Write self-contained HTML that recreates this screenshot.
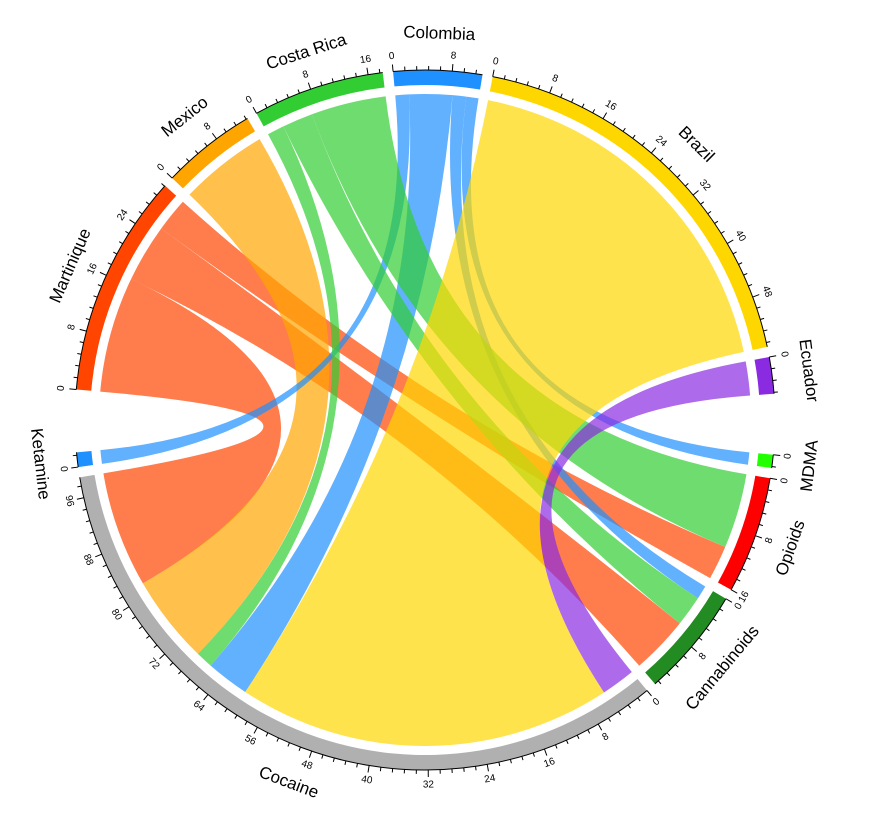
<!DOCTYPE html>
<html><head><meta charset="utf-8"><style>
html,body{margin:0;padding:0;background:#fff;}
svg{display:block;font-family:"Liberation Sans",Arial,sans-serif;}
</style></head><body>
<svg id="chart" width="889" height="832" viewBox="0 0 889 832" xmlns="http://www.w3.org/2000/svg">
<g id="chords"></g>
<g id="rings"></g>
<g id="labels"></g>
</svg>
<script>
const groupNames = ['Martinique','Mexico','Costa Rica','Colombia','Brazil','Ecuador','MDMA','Opioids','Cannabinoids','Cocaine','Ketamine'];
const groupColors = ['#FF4500','#FFA500','#32CD32','#1E90FF','#FFD700','#8A2BE2','#22FF00','#FF0000','#228B22','#B0B0B0','#1E90FF'];
const linkSource = ['Martinique','Martinique','Martinique','Mexico','Costa Rica','Costa Rica','Costa Rica','Colombia','Colombia','Colombia','Colombia','Brazil','Ecuador'];
const linkTarget = ['Cocaine','Cannabinoids','Opioids','Cocaine','Cocaine','Cannabinoids','Opioids','Ketamine','Cocaine','Cannabinoids','MDMA','Cocaine','Cocaine'];
const linkValue = [17,8.5,5,13,2.5,4.5,11,2,6.3,2,1.8,55,5];
const gapAfter = [1.7,1.7,1.7,1.7,1.7,10,1.7,1.7,1.7,1.7,10.3];

const CX=425, CY=420, R_OUT=350, R_IN=335, R_CH=326, START=275;
const NS='http://www.w3.org/2000/svg';
function pt(a,r){const t=a*Math.PI/180;return [CX+r*Math.sin(t),CY-r*Math.cos(t)];}
function f(p){return p[0].toFixed(2)+' '+p[1].toFixed(2);}

const totals = groupNames.map(g=>{let s=0;linkValue.forEach((v,i)=>{if(linkSource[i]===g||linkTarget[i]===g)s+=v;});return s;});
const sumAll = totals.reduce((a,b)=>a+b,0);
const gapSum = gapAfter.reduce((a,b)=>a+b,0);
const unit = (360-gapSum)/sumAll;
const gStart=[],gEnd=[];
let cur=START;
groupNames.forEach((g,i)=>{gStart.push(cur);cur+=totals[i]*unit;gEnd.push(cur);cur+=gapAfter[i];});
const gMid = gStart.map((s,i)=>((s+gEnd[i])/2)%360);

const sub = linkValue.map(()=>({}));
groupNames.forEach((g,gi)=>{
  const items=[];
  linkValue.forEach((v,i)=>{
    if(linkSource[i]===g) items.push({i,role:'s',other:groupNames.indexOf(linkTarget[i])});
    else if(linkTarget[i]===g) items.push({i,role:'t',other:groupNames.indexOf(linkSource[i])});
  });
  items.forEach(it=>{it.key=((gMid[it.other]-gMid[gi])%360+360)%360;});
  items.sort((a,b)=>b.key-a.key);
  let a=gStart[gi];
  items.forEach(it=>{const w=linkValue[it.i]*unit;sub[it.i][it.role]=[a,a+w];a+=w;});
});

const order=['Martinique','Mexico','Colombia','Costa Rica','Brazil','Ecuador'];
const chordG=document.getElementById('chords');
order.forEach(src=>{
  linkValue.forEach((v,i)=>{
    if(linkSource[i]!==src) return;
    const s=sub[i].s,t=sub[i].t;
    const c=[CX,CY];
    const las=(s[1]-s[0])>180?1:0, lat=(t[1]-t[0])>180?1:0;
    const d='M'+f(pt(s[0],R_CH))+' A'+R_CH+' '+R_CH+' 0 '+las+' 1 '+f(pt(s[1],R_CH))+
      ' Q'+f(c)+' '+f(pt(t[0],R_CH))+' A'+R_CH+' '+R_CH+' 0 '+lat+' 1 '+f(pt(t[1],R_CH))+
      ' Q'+f(c)+' '+f(pt(s[0],R_CH))+' Z';
    const p=document.createElementNS(NS,'path');
    p.setAttribute('d',d);
    p.setAttribute('fill',groupColors[groupNames.indexOf(src)]);
    p.setAttribute('fill-opacity','0.7');
    
    
    chordG.appendChild(p);
  });
});

const ringG=document.getElementById('rings'), labG=document.getElementById('labels');
function rot(a){a=((a%360)+360)%360;return (a>90&&a<270)?a-180:a;}
groupNames.forEach((g,gi)=>{
  const a0=gStart[gi],a1=gEnd[gi],la=(a1-a0)>180?1:0;
  const d='M'+f(pt(a0,R_OUT))+' A'+R_OUT+' '+R_OUT+' 0 '+la+' 1 '+f(pt(a1,R_OUT))+
    ' L'+f(pt(a1,R_IN))+' A'+R_IN+' '+R_IN+' 0 '+la+' 0 '+f(pt(a0,R_IN))+' Z';
  const p=document.createElementNS(NS,'path');
  p.setAttribute('d',d);p.setAttribute('fill',groupColors[gi]);
  
  
  ringG.appendChild(p);
  const ax=document.createElementNS(NS,'path');
  ax.setAttribute('d','M'+f(pt(a0,R_OUT))+' A'+R_OUT+' '+R_OUT+' 0 '+la+' 1 '+f(pt(a1,R_OUT)));
  ax.setAttribute('fill','none');ax.setAttribute('stroke','#000');ax.setAttribute('stroke-width','1');
  
  
  ringG.appendChild(ax);
  for(let k=0;k*1.6<=totals[gi]+1e-6;k++){
    const v=k*1.6, a=a0+v*unit, major=(k%5===0);
    const l=document.createElementNS(NS,'line');
    const p1=pt(a,R_OUT),p2=pt(a,R_OUT+(major?7:4));
    l.setAttribute('x1',p1[0]);l.setAttribute('y1',p1[1]);l.setAttribute('x2',p2[0]);l.setAttribute('y2',p2[1]);
    l.setAttribute('stroke','#000');l.setAttribute('stroke-width','1');
    
    
    ringG.appendChild(l);
    if(major){
      const tp=pt(a,R_OUT+15);
      const t=document.createElementNS(NS,'text');
      t.setAttribute('x',tp[0]);t.setAttribute('y',tp[1]);
      t.setAttribute('text-anchor','middle');t.setAttribute('dominant-baseline','central');
      t.setAttribute('font-size','10');
      t.setAttribute('transform','rotate('+rot(a)+' '+tp[0]+' '+tp[1]+')');
      t.textContent=String(Math.round(v));
      
      
      labG.appendChild(t);
    }
  }
  const am=(a0+a1)/2, np=pt(am,R_OUT+37);
  const t=document.createElementNS(NS,'text');
  t.setAttribute('x',np[0]);t.setAttribute('y',np[1]);
  t.setAttribute('text-anchor','middle');t.setAttribute('dominant-baseline','central');
  t.setAttribute('font-size','17');
  t.setAttribute('transform','rotate('+rot(am)+' '+np[0]+' '+np[1]+')');
  t.textContent=g;
  
  
  labG.appendChild(t);
});
</script>
</body></html>
